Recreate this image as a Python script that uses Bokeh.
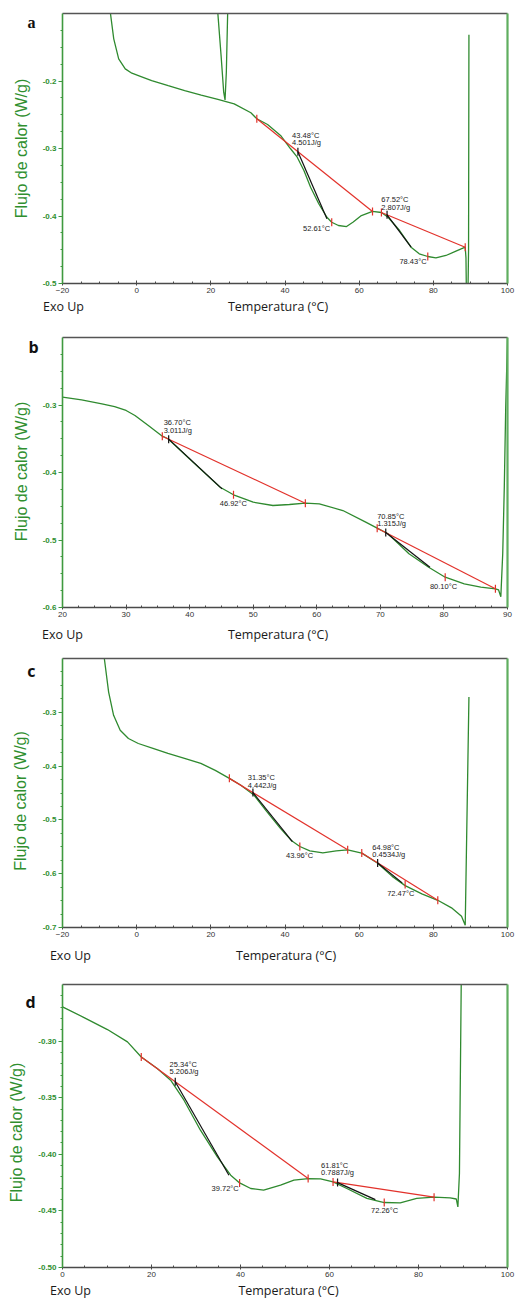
import numpy as np
from math import pi
from bokeh.plotting import figure
from bokeh.layouts import column
from bokeh.models import Range1d, FixedTicker, LinearAxis, PrintfTickFormatter
from bokeh.core.properties import value
from bokeh.embed import file_html
from bokeh.resources import INLINE

# ---------------- DATA ----------------
# Panel a
a_temp = [-7.5, -7.09, -6.18, -4.85, -3.08, -1.29, 1.0, 4.05, 8.5, 12.95, 17.4, 21.9, 26.3, 30.8,
          32.4, 35.3, 38.8, 41.5, 43.3, 45.1, 46.9, 49.1, 51.3, 52.6, 54.4, 56.6, 58.4, 60.6, 63.6,
          66.0, 67.8, 70.9, 74.0, 76.2, 78.5, 80.7, 83.4, 86.1, 88.6, 88.8, 88.95, 89.3, 89.5, 89.6]
a_flow = [-0.04, -0.099, -0.1375, -0.1671, -0.182, -0.1884, -0.193, -0.1993, -0.207, -0.2141,
          -0.221, -0.2274, -0.2338, -0.2471, -0.256, -0.2644, -0.2807, -0.3004, -0.3129, -0.3326,
          -0.3573, -0.3819, -0.4018, -0.4092, -0.4141, -0.4156, -0.409, -0.3993, -0.3933, -0.3948,
          -0.4018, -0.4215, -0.4462, -0.456, -0.46, -0.4619, -0.4585, -0.452, -0.4462, -0.462,
          -0.53, -0.53, -0.45, -0.1316]
a_spike_temp = [21.6, 21.88, 22.76, 23.47, 23.83, 24.18, 24.54, 24.7]
a_spike_flow = [-0.05, -0.099, -0.162, -0.2166, -0.228, -0.187, -0.099, -0.05]
a_base = dict(t0=[32.4, 66.0], y0=[-0.256, -0.3948], t1=[63.6, 88.6], y1=[-0.3933, -0.4462])
a_tan = dict(t0=[43.48, 67.52], y0=[-0.3048, -0.3983], t1=[51.3, 74.0], y1=[-0.4042, -0.4462])
a_mark_t = [32.4, 52.6, 63.6, 66.0, 78.5, 88.6]
a_mark_y = [-0.256, -0.4092, -0.3933, -0.3948, -0.46, -0.4462]
a_ann_text = ["43.48°C", "4.501J/g", "52.61°C", "67.52°C", "2.807J/g", "78.43°C"]
a_ann_t = [41.92, 41.92, 44.86, 65.97, 65.97, 70.86]
a_ann_y = [-0.2807, -0.2916, -0.418, -0.376, -0.3879, -0.467]

# Panel b
b_temp = [20, 23.0, 26.2, 28.2, 30.0, 31.4, 33.5, 35.7, 36.6, 39.7, 42.8, 44.8, 46.9, 50.0, 53.1,
          55.7, 58.2, 60.4, 64.1, 67.7, 69.5, 71.2, 74.5, 77.6, 80.2, 83.2, 85.8, 88.1, 88.6, 88.95,
          89.25, 89.5, 89.72, 90.0, 90.1]
b_flow = [-0.2884, -0.2925, -0.2982, -0.3025, -0.3081, -0.3156, -0.3304, -0.3462, -0.35, -0.3773,
          -0.4044, -0.4218, -0.433, -0.444, -0.4489, -0.4474, -0.4455, -0.4464, -0.4563, -0.4736,
          -0.4825, -0.4908, -0.5204, -0.5403, -0.5551, -0.565, -0.5699, -0.5723, -0.574, -0.584,
          -0.52, -0.42, -0.303, -0.2, -0.15]
b_base = dict(t0=[35.7, 69.5], y0=[-0.3462, -0.4825], t1=[58.2, 88.1], y1=[-0.4455, -0.5723])
b_tan = dict(t0=[36.7, 70.85], y0=[-0.3506, -0.489], t1=[45.1, 77.8], y1=[-0.4242, -0.5403])
b_mark_t = [35.7, 46.9, 58.2, 69.5, 80.2, 88.1]
b_mark_y = [-0.3462, -0.433, -0.4455, -0.4825, -0.5551, -0.5723]
b_ann_text = ["36.70°C", "3.011J/g", "46.92°C", "70.85°C", "1.315J/g", "80.10°C"]
b_ann_t = [35.91, 35.91, 44.73, 69.5, 69.5, 77.8]
b_ann_y = [-0.3264, -0.3378, -0.4464, -0.4652, -0.476, -0.5684]

# Panel c
c_temp = [-9.0, -8.72, -7.56, -6.22, -4.44, -2.22, 0.44, 4.4, 8.44, 12.9, 17.3, 21.2, 25.0, 28.0,
          31.6, 35.1, 38.7, 41.8, 44.0, 46.7, 50.2, 53.8, 56.9, 60.7, 64.9, 68.9, 72.4, 76.9, 81.2,
          84.9, 87.6, 88.6, 89.6]
c_flow = [-0.15, -0.2, -0.2624, -0.3056, -0.3333, -0.3487, -0.358, -0.367, -0.3765, -0.3855,
          -0.395, -0.408, -0.4228, -0.4352, -0.4537, -0.4846, -0.5154, -0.5389, -0.5494, -0.5574,
          -0.5611, -0.5574, -0.5556, -0.5617, -0.5802, -0.605, -0.6222, -0.6376, -0.6494, -0.6635,
          -0.6791, -0.6958, -0.2717]
c_base = dict(t0=[25.0, 60.7], y0=[-0.4228, -0.5617], t1=[56.9, 81.2], y1=[-0.5556, -0.6494])
c_tan = dict(t0=[31.35, 64.98], y0=[-0.4492, -0.58], t1=[42.0, 71.6], y1=[-0.5402, -0.617])
c_mark_t = [25.0, 44.0, 56.9, 60.7, 72.4, 81.2]
c_mark_y = [-0.4228, -0.5494, -0.5556, -0.5617, -0.620, -0.6494]
c_ann_text = ["31.35°C", "4.442J/g", "43.96°C", "64.98°C", "0.4534J/g", "72.47°C"]
c_ann_t = [29.95, 29.95, 40.27, 63.55, 63.55, 67.55]
c_ann_y = [-0.4209, -0.4352, -0.5667, -0.5506, -0.5648, -0.6365]

# Panel d
d_temp = [0, 4.85, 10.1, 14.6, 17.7, 21.3, 24.3, 27.3, 31.0, 34.8, 37.8, 39.8, 42.3, 45.2, 49.0,
          52.0, 55.2, 58.0, 60.8, 63.9, 68.4, 72.3, 75.9, 79.6, 83.5, 87.1, 88.5, 88.85, 89.2,
          89.6, 89.7]
d_flow = [-0.2698, -0.2792, -0.2898, -0.3007, -0.314, -0.3242, -0.3345, -0.3522, -0.3787,
          -0.4023, -0.4185, -0.4253, -0.4302, -0.4317, -0.4273, -0.4229, -0.4214, -0.4217,
          -0.4244, -0.4302, -0.4390, -0.4426, -0.4429, -0.439, -0.4379, -0.4385, -0.4395,
          -0.4465, -0.417, -0.25, -0.22]
d_base = dict(t0=[17.7, 60.8], y0=[-0.314, -0.4244], t1=[55.2, 83.5], y1=[-0.4214, -0.4379])
d_tan = dict(t0=[25.34, 61.81], y0=[-0.3359, -0.425], t1=[37.4, 70.3], y1=[-0.4185, -0.440])
d_mark_t = [17.7, 39.8, 55.2, 60.8, 72.3, 83.5]
d_mark_y = [-0.314, -0.4253, -0.4214, -0.4244, -0.4426, -0.4379]
d_ann_text = ["25.34°C", "5.206J/g", "39.72°C", "61.81°C", "0.7887J/g", "72.26°C"]
d_ann_t = [24.07, 24.07, 33.5, 58.1, 58.1, 69.33]
d_ann_y = [-0.3204, -0.3272, -0.4302, -0.4096, -0.4161, -0.4494]

# ticks
x_ticks_wide = [-20, 0, 20, 40, 60, 80, 100]
x_ticks_b = [20, 30, 40, 50, 60, 70, 80, 90]
x_ticks_d = [0, 20, 40, 60, 80, 100]
y_ticks_a = [-0.5, -0.4, -0.3, -0.2]
y_ticks_b = [-0.6, -0.5, -0.4, -0.3]
y_ticks_c = [-0.7, -0.6, -0.5, -0.4, -0.3]
y_ticks_d = [-0.50, -0.45, -0.40, -0.35, -0.30]

Y_LABEL = "Flujo de calor (W/g)"
X_LABEL = "Temperatura (°C)"
EXO_LABEL = "Exo Up"

GREEN_CURVE = "#2f8a2f"
GREEN_AXIS = "#3f9a3f"
GREEN_TXT = "#2f8f2f"
RED = "#e2322b"
BLACK = "#111111"


def text_axis(ticks, labels, font, size, color, standoff, style="normal", orientation="horizontal"):
    ax = LinearAxis(ticker=FixedTicker(ticks=ticks),
                    major_label_overrides={t: s for t, s in zip(ticks, labels)},
                    axis_line_color=None, major_tick_line_color=None, minor_tick_line_color=None,
                    major_tick_out=0, major_tick_in=0, minor_tick_out=0, minor_tick_in=0,
                    major_label_standoff=standoff, major_label_text_font=font,
                    major_label_text_font_size=size, major_label_text_color=color,
                    major_label_text_font_style=style, major_label_orientation=orientation)
    return ax


def make_panel(letter, xr, yr, frame, span, xt, xstep, yt, ystep, yfmt,
               curves, base, tan, mark_t, mark_y, ann_text, ann_t, ann_y, text_row, ylab):
    L, R, T, B = frame
    ftop, fbot = span
    p = figure(width=515, height=fbot - ftop, x_range=Range1d(*xr), y_range=Range1d(*yr),
               output_backend="svg", toolbar_location=None,
               min_border_left=L, min_border_right=515 - R,
               min_border_top=T - ftop, min_border_bottom=fbot - B)
    p.outline_line_color = None
    p.xgrid.visible = False
    p.ygrid.visible = False

    def dx(px):
        return round(xr[0] + (px - L) / (R - L) * (xr[1] - xr[0]), 4)

    def dy(py):
        return round(yr[0] + (B - py) / (B - T) * (yr[1] - yr[0]), 5)

    xminor = list(np.arange(xr[0], xr[1] + 1e-9, xstep))
    yminor = list(np.arange(yr[0], yr[1] + 1e-9, ystep))
    xa = p.xaxis[0]
    xa.ticker = FixedTicker(ticks=xt, minor_ticks=xminor)
    xa.axis_line_color = "#4a4a4a"
    xa.axis_line_width = 1.3
    xa.major_tick_line_color = "#4a4a4a"
    xa.minor_tick_line_color = "#4a4a4a"
    xa.major_tick_in = 3
    xa.major_tick_out = 2
    xa.minor_tick_in = 2
    xa.minor_tick_out = 0
    xa.major_label_standoff = 2
    xa.major_label_text_font = "Liberation Sans"
    xa.major_label_text_font_size = "8px"
    xa.major_label_text_color = "#333333"

    ya = p.yaxis[0]
    ya.ticker = FixedTicker(ticks=yt, minor_ticks=yminor)
    ya.formatter = PrintfTickFormatter(format=yfmt)
    ya.axis_line_color = GREEN_AXIS
    ya.axis_line_width = 1.6
    ya.major_tick_line_color = GREEN_AXIS
    ya.minor_tick_line_color = GREEN_AXIS
    ya.major_tick_in = 0
    ya.major_tick_out = 4
    ya.minor_tick_in = 0
    ya.minor_tick_out = 2
    ya.major_label_standoff = 2
    ya.major_label_text_font = "Liberation Sans"
    ya.major_label_text_font_size = "8px"
    ya.major_label_text_font_style = "bold"
    ya.major_label_text_color = GREEN_TXT

    top = LinearAxis(ticker=FixedTicker(ticks=[]), axis_line_color="#555555", axis_line_width=1.3,
                     major_label_text_font_size="0px", major_label_standoff=0,
                     major_tick_out=0, major_tick_in=0, minor_tick_out=0, minor_tick_in=0)
    p.add_layout(top, "above")
    right = LinearAxis(ticker=FixedTicker(ticks=[]), axis_line_color="#5fae5f", axis_line_width=2.2,
                       major_label_text_font_size="0px", major_label_standoff=0,
                       major_tick_out=0, major_tick_in=0, minor_tick_out=0, minor_tick_in=0)
    p.add_layout(right, "right")

    # panel letter and y label (as extra left axes, outside the frame)
    ltxt, lfont, ly, lstand = letter
    p.add_layout(text_axis([dy(ly)], [ltxt], lfont, "16px", "#111111", lstand, style="bold"), "left")
    ycen, ystand = ylab
    p.add_layout(text_axis([dy(ycen)], [Y_LABEL], "Liberation Sans", "16px", GREEN_TXT, ystand,
                           orientation="parallel"), "left")
    # Exo Up / Temperatura row
    ex, tx, tstand = text_row
    p.add_layout(text_axis([dx(ex), dx(tx)], [EXO_LABEL, X_LABEL], "Open Sans", "12.5px",
                           "#1a1a1a", tstand), "below")

    for ct, cy in curves:
        p.line(ct, cy, line_color=GREEN_CURVE, line_width=1.3)
    p.segment(base["t0"], base["y0"], base["t1"], base["y1"], line_color=RED, line_width=1.2)
    p.segment(tan["t0"], tan["y0"], tan["t1"], tan["y1"], line_color=BLACK, line_width=1.2)
    p.scatter(mark_t, mark_y, marker="dash", size=8, angle=pi / 2, line_color=RED, line_width=1.2)
    p.scatter(tan["t0"], tan["y0"], marker="dash", size=8, angle=pi / 2, line_color=BLACK,
              line_width=1.2)
    p.text(ann_t, ann_y, text=ann_text, text_font=value("Liberation Sans"),
           text_font_size=value("7.5px"), text_align="left", text_baseline="middle",
           text_color="#222222")
    return p


pa = make_panel(("a", "Liberation Serif", 22, 4), (-20, 100), (-0.5, -0.1), (60, 510, 13, 283),
                (0, 320), x_ticks_wide, 5, y_ticks_a, 0.025, "%.1f",
                [(a_temp, a_flow), (a_spike_temp, a_spike_flow)], a_base, a_tan, a_mark_t, a_mark_y,
                a_ann_text, a_ann_t, a_ann_y, (61, 278, 2), (148, -5))
pb = make_panel(("b", "Open Sans", 347, 1), (20, 90), (-0.6, -0.2), (60, 510, 337, 607),
                (320, 645), x_ticks_b, 2.5, y_ticks_b, 0.025, "%.1f",
                [(b_temp, b_flow)], b_base, b_tan, b_mark_t, b_mark_y,
                b_ann_text, b_ann_t, b_ann_y, (60, 278, 6), (471, -5))
pc = make_panel(("c", "Open Sans", 671, 4), (-20, 100), (-0.7, -0.2), (60, 510, 658, 928),
                (645, 966), x_ticks_wide, 5, y_ticks_c, 0.025, "%.1f",
                [(c_temp, c_flow)], c_base, c_tan, c_mark_t, c_mark_y,
                c_ann_text, c_ann_t, c_ann_y, (68, 286, 7), (801, -5))
pd_ = make_panel(("d", "Open Sans", 1001, 0), (0, 100), (-0.5, -0.25), (62, 507, 984, 1267),
                 (966, 1301), x_ticks_d, 5, y_ticks_d, 0.01, "%.2f",
                 [(d_temp, d_flow)], d_base, d_tan, d_mark_t, d_mark_y,
                 d_ann_text, d_ann_t, d_ann_y, (70, 288, 2), (1132, -3))

layout = column(pa, pb, pc, pd_)
open("out.html", "w").write(file_html(layout, INLINE))
